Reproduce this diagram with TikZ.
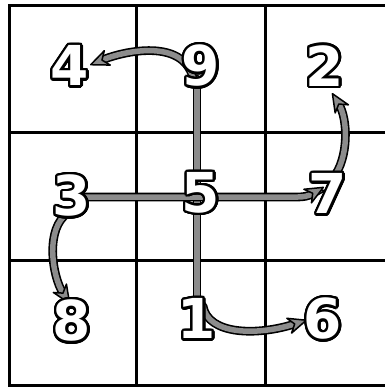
\documentclass[tikz,border=0pt]{standalone}
\usepackage{fontspec}
\usepackage[copies]{contour}
\usetikzlibrary{arrows.meta}
\newfontfamily\digfont{DejaVu Sans}
\contournumber{32}
\definecolor{linkgray}{RGB}{140,140,140}
\pgfdeclarelayer{back}
\pgfsetlayers{back,main}
\newcommand\arrowlink[1]{\draw[conn, shorten >=13pt] #1; \draw[tipline] #1;}
\begin{document}
\begin{tikzpicture}[x=1pt,y=-1pt,
  gridline/.style={line width=3pt},
  digit/.style={font=\digfont\bfseries\fontsize{55}{55}\selectfont, text=white, inner sep=0pt},
  conn/.style={draw=black, line width=1.6pt, double=linkgray, double distance=5.5pt, line cap=round},
  tipline/.style={draw=linkgray, line width=0.3pt,
     -{Stealth[length=22pt, width=19pt, inset=7pt, fill=linkgray, color=black, line width=1.5pt, round]}}
]
\useasboundingbox (0,0) rectangle (385,388);
\clip (0,0) rectangle (385,388);

% digits
\newcommand\digitnode[3]{\node[digit] (#1) at (#2) {\contourlength{2.3pt}\contour{black}{#3}};}
\digitnode{d4}{70,67}{4}
\digitnode{d9}{201,67}{9}
\digitnode{d2}{325,67}{2}
\digitnode{d3}{72,197}{3}
\digitnode{d5}{201,194}{5}
\digitnode{d7}{328,195}{7}
\digitnode{d8}{72,322}{8}
\digitnode{d1}{197,320}{1}
\digitnode{d6}{323,320}{6}

\begin{pgfonlayer}{back}
  \fill[white] (0,0) rectangle (385,388);
  % grid
  \draw[gridline] (9.5,5.5) rectangle (393.5,385);
  \draw[gridline] (136,5.5) -- (136,385) (265,5.5) -- (265,385)
                  (9.5,132) -- (393.5,132) (9.5,260) -- (393.5,260);
  % connectors
  \draw[conn] ([shift={(-4,12)}]d9.center) -- ([shift={(0,-14)}]d1.center);
  \arrowlink{([shift={(4,0)}]d3.center) -- ([shift={(-30,2)}]d7.center)
        .. controls +(12,0) and +(-9,5) .. ([shift={(-4,-8)}]d7.center)}
  \arrowlink{([shift={(-8,11)}]d9.center) .. controls +(-10,-40) and +(34,-14) .. ([shift={(20,-2)}]d4.center)}
  \arrowlink{([shift={(5,-17)}]d7.center) .. controls +(16,-20) and +(16,26) .. ([shift={(7,26)}]d2.center)}
  \arrowlink{([shift={(-4,16)}]d3.center) .. controls +(-23,15) and +(-18,-28) .. ([shift={(-2,-18)}]d8.center)}
  \arrowlink{([shift={(6,-14)}]d1.center) .. controls +(5,29) and +(-50,16) .. ([shift={(-16,0)}]d6.center)}
\end{pgfonlayer}
\end{tikzpicture}
\end{document}
